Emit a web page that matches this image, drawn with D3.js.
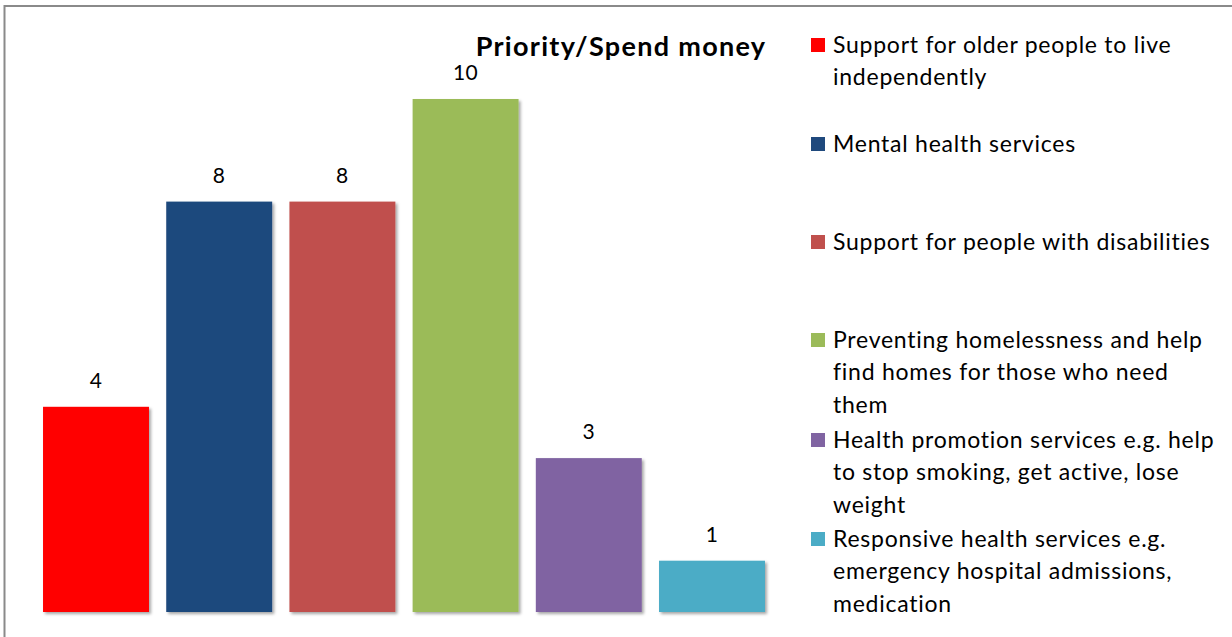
<!DOCTYPE html>
<html>
<head>
<meta charset="utf-8">
<script src="https://cdn.jsdelivr.net/npm/d3@7"></script>
<style>
  html, body { margin: 0; padding: 0; background: #fff; }
  svg { display: block; font-family: Lato, "Open Sans", sans-serif; }
</style>
</head>
<body>
<svg id="chart" width="1232" height="637"></svg>
<script>
// Spending priorities and the number of responses for each
const categories = [
  "Support for older people to live independently",
  "Mental health services",
  "Support for people with disabilities",
  "Preventing homelessness and help find homes for those who need them",
  "Health promotion services e.g. help to stop smoking, get active, lose weight",
  "Responsive health services e.g. emergency hospital admissions, medication"
];
const values = [4, 8, 8, 10, 3, 1];
const colors = ["#FF0000", "#1F497D", "#C0504D", "#9BBB59", "#8064A2", "#4BACC6"];
// Legend text broken into display lines
const legendLines = [
  ["Support for older people to live", "independently"],
  ["Mental health services"],
  ["Support for people with disabilities"],
  ["Preventing homelessness and help", "find homes for those who need", "them"],
  ["Health promotion services e.g. help", "to stop smoking, get active, lose", "weight"],
  ["Responsive health services e.g.", "emergency hospital admissions,", "medication"]
];
const title = "Priority/Spend money";

const svg = d3.select("#chart");

// Drop shadow for the bars
const defs = svg.append("defs");
const f = defs.append("filter").attr("id", "shadow")
  .attr("x", "-10%").attr("y", "-10%").attr("width", "130%").attr("height", "130%");
f.append("feDropShadow").attr("dx", 2).attr("dy", 2)
  .attr("stdDeviation", 1.6).attr("flood-color", "#000").attr("flood-opacity", 0.35);

// Chart frame (top and left edges visible)
svg.append("path")
  .attr("d", "M4.5,637 L4.5,6 L1232,6")
  .attr("fill", "none").attr("stroke", "#8a8a8a").attr("stroke-width", 2);

const x = d3.scaleBand()
  .domain(categories)
  .range([34.4, 773.6])
  .paddingInner(0.14)
  .paddingOuter(0.07);

const y = d3.scaleLinear().domain([0, 10]).range([612, 99]);

const data = categories.map((c, i) => ({ c, v: values[i], color: colors[i] }));

svg.append("g").selectAll("rect")
  .data(data)
  .join("rect")
  .attr("x", d => x(d.c))
  .attr("y", d => y(d.v))
  .attr("width", x.bandwidth())
  .attr("height", d => y(0) - y(d.v))
  .attr("fill", d => d.color)
  .attr("filter", "url(#shadow)");

svg.append("g").selectAll("text")
  .data(data)
  .join("text")
  .attr("x", d => x(d.c) + x.bandwidth() / 2)
  .attr("y", d => y(d.v) - 19)
  .attr("text-anchor", "middle")
  .attr("font-size", 21)
  .attr("letter-spacing", 0.5)
  .attr("fill", "#000")
  .text(d => d.v);

// Title
svg.append("text")
  .attr("x", 621).attr("y", 56)
  .attr("text-anchor", "middle")
  .attr("font-size", 27)
  .attr("font-weight", "bold")
  .attr("letter-spacing", 1.3)
  .attr("fill", "#000")
  .text(title);

// Legend
const legendTop = [53, 152, 250, 348, 448, 547];
const lineH = 32.3;
const lg = svg.append("g");
data.forEach((d, i) => {
  const g = lg.append("g");
  g.append("rect")
    .attr("x", 811).attr("y", legendTop[i] - 15)
    .attr("width", 14).attr("height", 14)
    .attr("fill", d.color);
  const t = g.append("text")
    .attr("font-size", 23)
    .attr("letter-spacing", 0.75)
    .attr("fill", "#000");
  legendLines[i].forEach((line, j) => {
    t.append("tspan")
      .attr("x", 833)
      .attr("y", legendTop[i] + j * lineH)
      .text(line);
  });
});
</script>
</body>
</html>
